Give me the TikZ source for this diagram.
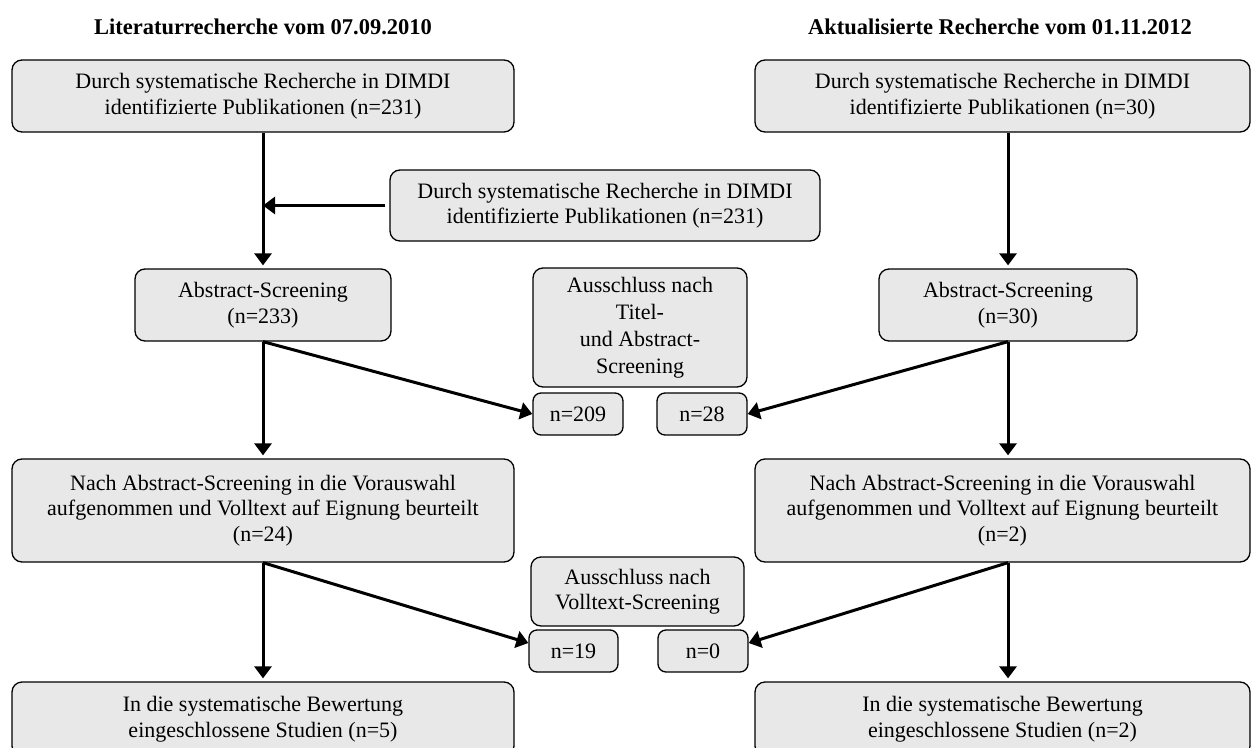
\documentclass[tikz,border=0pt]{standalone}
\usepackage{fontspec}
\setmainfont{Liberation Serif}
\usetikzlibrary{arrows.meta}
\definecolor{boxgray}{RGB}{232,232,232}
\begin{document}
\begin{tikzpicture}[x=1pt,y=-1pt,
  box/.style={draw=black, line width=1.3pt, fill=boxgray, rounded corners=10pt,
    align=center, inner sep=0pt, font=\fontsize{22}{25.5}\selectfont},
  arr/.style={line width=3pt, -{Triangle[length=12pt,width=17pt]}},
  ttl/.style={font=\bfseries\fontsize{22.5}{26}\selectfont, inner sep=0pt, anchor=base}]
\useasboundingbox (0,0) rectangle (1253,747);
\clip (0,0) rectangle (1253,747);

% titles
\node[ttl] (t1) at (263,34) {Literaturrecherche vom 07.09.2010};
\node[ttl] (t2) at (1000,34) {Aktualisierte Recherche vom 01.11.2012};

% left column
\node[box, minimum width=502pt, minimum height=72pt] (b1L) at (263,96)
  {Durch systematische Recherche in DIMDI\\identifizierte Publikationen (n=231)};
\node[box, minimum width=430pt, minimum height=71pt] (b2) at (605,205.5)
  {Durch systematische Recherche in DIMDI\\identifizierte Publikationen (n=231)};
\node[box, minimum width=256pt, minimum height=72pt] (b3L) at (263,305)
  {Abstract-Screening\\(n=233)};
\node[box, minimum width=502pt, minimum height=103pt] (b4L) at (263,510.5)
  {Nach Abstract-Screening in die Vorauswahl\\aufgenommen und Volltext auf Eignung beurteilt\\(n=24)};
\node[box, minimum width=502pt, minimum height=74pt] (b5L) at (263,719)
  {In die systematische Bewertung\\eingeschlossene Studien (n=5)};

% right column
\node[box, minimum width=495pt, minimum height=72pt] (b1R) at (1002.5,96)
  {Durch systematische Recherche in DIMDI\\identifizierte Publikationen (n=30)};
\node[box, minimum width=258pt, minimum height=72pt] (b3R) at (1008,305)
  {Abstract-Screening\\(n=30)};
\node[box, minimum width=495pt, minimum height=103pt] (b4R) at (1002.5,510.5)
  {Nach Abstract-Screening in die Vorauswahl\\aufgenommen und Volltext auf Eignung beurteilt\\(n=2)};
\node[box, minimum width=495pt, minimum height=74pt] (b5R) at (1002.5,719)
  {In die systematische Bewertung\\eingeschlossene Studien (n=2)};

% middle exclusions
\node[box, font=\fontsize{22}{27}\selectfont, minimum width=214pt, minimum height=119pt] (ex1) at (640,327.5)
  {Ausschluss nach\\Titel-\\und Abstract-\\Screening};
\node[box, rounded corners=8pt, minimum width=90pt, minimum height=42pt] (n209) at (578,414) {n=209};
\node[box, rounded corners=8pt, minimum width=90pt, minimum height=42pt] (n28) at (702,414) {n=28};
\node[box, minimum width=213pt, minimum height=69pt] (ex2) at (637.5,591.5)
  {Ausschluss nach\\Volltext-Screening};
\node[box, rounded corners=8pt, minimum width=89pt, minimum height=42pt] (n19) at (573.5,651) {n=19};
\node[box, rounded corners=8pt, minimum width=90pt, minimum height=42pt] (n0) at (703,651) {n=0};

% connectors left
\coordinate (j1) at (b1L.south |- b2.west);
\draw[arr, shorten >=3pt] (b1L.south) -- (b3L.north);
\draw[arr, shorten <=4pt] (b2.west) -- (j1);
\draw[arr] (b3L.south) -- (n209.west);
\draw[arr, shorten >=3pt] (b3L.south) -- (b4L.north);
\draw[arr] (b4L.south) -- ([yshift=8pt]n19.west);
\draw[arr, shorten >=3pt] (b4L.south) -- (b5L.north);

% connectors right
\draw[arr, shorten >=3pt] (b3R.north |- b1R.south) -- (b3R.north);
\draw[arr] (b3R.south) -- (n28.east);
\draw[arr, shorten >=3pt] (b3R.south) -- (b3R.south |- b4R.north);
\draw[arr] (b3R.south |- b4R.south) -- ([yshift=8pt]n0.east);
\draw[arr, shorten >=3pt] (b3R.south |- b4R.south) -- (b3R.south |- b5R.north);
\end{tikzpicture}
\end{document}
